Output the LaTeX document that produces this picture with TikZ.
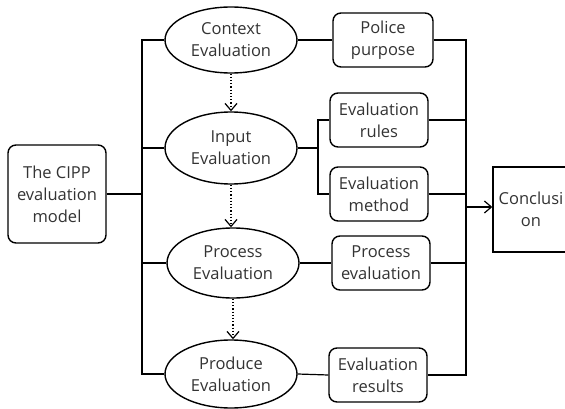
\documentclass[tikz,border=0pt]{standalone}
\usepackage{fontspec}
\setmainfont{Open Sans}
\usetikzlibrary{shapes.geometric, arrows.meta}
\tikzset{
  stage/.style={draw, ellipse, line width=1.4pt, minimum width=132pt, minimum height=66pt, align=center, inner sep=0pt},
  item/.style={draw, rounded corners=8pt, line width=1.4pt, minimum width=98pt, minimum height=54pt, align=center, inner sep=0pt},
  link/.style={line width=1.2pt},
  flow/.style={line width=1.2pt, dotted, -{Straight Barb[length=7pt, width=12pt, line width=1.2pt, line cap=butt]}}
}
\begin{document}
\begin{tikzpicture}[x=1pt, y=-1pt, font=\fontsize{16.5}{22}\selectfont, text=black!80]
      \useasboundingbox (0,0) rectangle (565,409);
      \clip (0,0) rectangle (565,409);
      \node[item, minimum height=98pt] (model) at (57,194) {The CIPP\\evaluation\\model};

      \node[stage] (context) at (231,40) {Context\\Evaluation};
      \node[stage, minimum height=72pt] (input) at (231,148) {Input\\Evaluation};
      \node[stage, minimum height=70pt] (process) at (233,263) {Process\\Evaluation};
      \node[stage, minimum height=68pt] (produce) at (231,374) {Produce\\Evaluation};

      \node[item, minimum width=100pt] (police) at (383,40) {Police\\purpose};
      \node[item] (rules) at (379,120) {Evaluation\\rules};
      \node[item] (method) at (379,194) {Evaluation\\method};
      \node[item] (proceval) at (381,263) {Process\\evaluation};
      \node[item] (results) at (378,375) {Evaluation\\results};

      \node[draw, line width=1.4pt, minimum width=120pt, minimum height=85pt, inner sep=0pt] (concl) at (553,209.5) {};
      \node[align=center] (concltext) at (531,209.5) {Conclusi\\on};

      \coordinate (lt) at (142,194);
      \coordinate (fork) at (318,148);
      \coordinate (rt) at (466,207);

      \draw[link] (model.east) -- (lt);
      \draw[link] (context.west) -| (lt) |- (produce.west);
      \draw[link] (input.west) -- (input.west -| lt);
      \draw[link] (process.west) -- (process.west -| lt);

      \draw[flow] (context.south) -- (input.north);
      \draw[flow] (input.south) -- (input.south |- process.north);
      \draw[flow] (process.south) -- (process.south |- produce.north);

      \draw[link] (context.east) -- (police.west);
      \draw[link] (input.east) -- (fork);
      \draw[link] (rules.west) -| (fork) |- (method.west);
      \draw[link] (process.east) -- (proceval.west);
      \draw[link] (produce.east) -- (results.west);

      \draw[link] (police.east) -| (rt) |- (results.east);
      \draw[link] (rules.east) -- (rules.east -| rt);
      \draw[link] (method.east) -- (method.east -| rt);
      \draw[link] (proceval.east) -- (proceval.east -| rt);
      \draw[link, -{Straight Barb[length=7pt, width=12pt]}] (rt) -- (rt -| concl.west);
\end{tikzpicture}
\end{document}
